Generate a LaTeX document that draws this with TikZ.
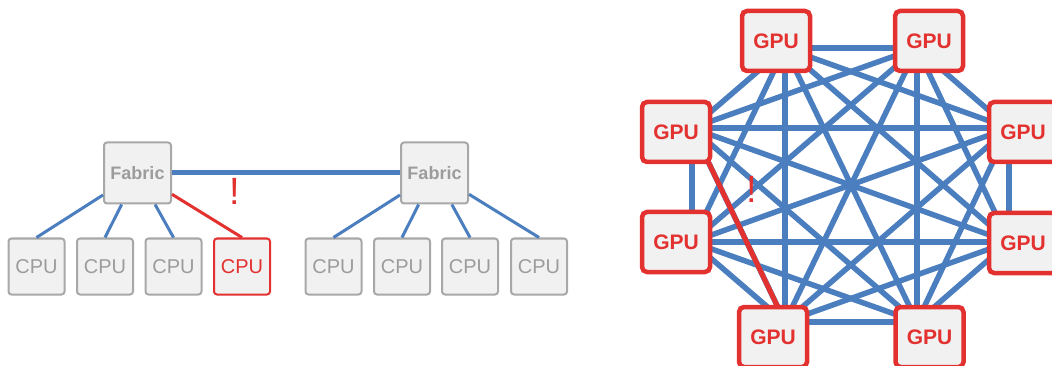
\documentclass[tikz,border=0pt]{standalone}
\usepackage{fontspec}
\setmainfont{Liberation Sans}
\definecolor{linkblue}{HTML}{4A7EBF}
\definecolor{alertred}{HTML}{E2312F}
\definecolor{boxgray}{HTML}{A8A8A8}
\definecolor{boxfill}{HTML}{F1F1F1}
\definecolor{textgray}{HTML}{9C9C9C}
\tikzset{
  cpu/.style={draw=boxgray, fill=boxfill, line width=2pt, rounded corners=3pt,
    minimum width=56pt, minimum height=56pt, inner sep=0pt, text=textgray,
    font=\fontsize{20}{20}\selectfont},
  fabric/.style={cpu, minimum width=67pt, minimum height=61pt,
    font=\bfseries\fontsize{18}{18}\selectfont},
  gpu/.style={draw=alertred, fill=boxfill, line width=4.5pt, rounded corners=5pt,
    minimum width=68pt, minimum height=60pt, inner sep=0pt, text=alertred,
    font=\bfseries\fontsize{21}{21}\selectfont},
  link/.style={draw=linkblue, line width=3pt},
  fail/.style={draw=alertred, line width=3pt},
  bang/.style={text=alertred, anchor=base, inner sep=0pt,
    font=\fontsize{38}{38}\selectfont}
}
\begin{document}
\begin{tikzpicture}[x=1pt,y=-1pt]
\useasboundingbox (0,0) rectangle (1052,366);

% left: two fabrics with their cpus
\node[fabric] (fabL) at (137.5,173) {Fabric};
\node[fabric] (fabR) at (434.5,173) {Fabric};

\foreach \i/\x in {1/36.5,2/105,3/173.5,5/333.5,6/402,7/470,8/539}
	\node[cpu] (cpu\i) at (\x,266.5) {CPU};
\node[cpu, draw=alertred, text=alertred] (cpu4) at (242,266.5) {CPU};

\foreach \i in {1,2,3}
	\draw[link] (fabL) -- (cpu\i.north);
\draw[fail] (fabL) -- (cpu4.north);
\foreach \i in {5,...,8}
	\draw[link] (fabR) -- (cpu\i.north);
\draw[link, line width=5pt] (fabL) -- (fabR);

\node[bang] (bangL) at (235,205) {!};

% right: eight gpus, all to all
\coordinate (v1) at (785,48);
\coordinate (v2) at (917,48);
\coordinate (v3) at (1009,128);
\coordinate (v4) at (1009,242);
\coordinate (v5) at (917,322);
\coordinate (v6) at (785,322);
\coordinate (v7) at (692,242);
\coordinate (v8) at (692,128);

\foreach \i in {1,...,7}{
	\pgfmathtruncatemacro\k{\i+1}
	\foreach \j in {\k,...,8}
		\draw[link, line width=5.5pt] (v\i) -- (v\j);
}
\draw[fail, line width=5pt] (v8) -- (v6);

\node[bang] (bangR) at (752,203) {!};

\foreach \i/\p in {1/{(776,41)},2/{(929,41)},3/{(1023,132)},4/{(1023,243)},
	5/{(929.5,337)},6/{(773,337)},7/{(676,242)},8/{(676,132)}}
	\node[gpu] (gpu\i) at \p {GPU};
\end{tikzpicture}
\end{document}
